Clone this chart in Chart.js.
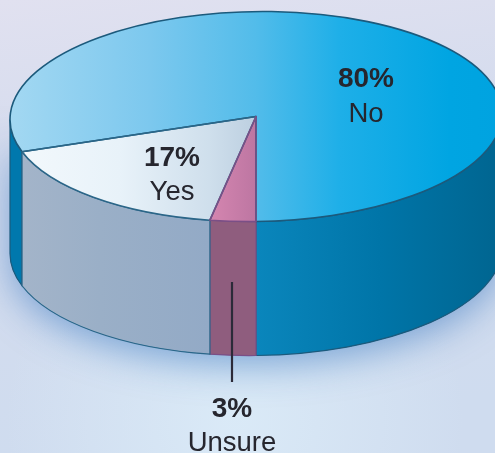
<!DOCTYPE html>
<html>
<head>
<meta charset="utf-8">
<script src="https://cdn.jsdelivr.net/npm/chart.js@4"></script>
<style>
html,body{margin:0;padding:0;background:#d6deee;overflow:hidden}
canvas{display:block}
</style>
</head>
<body>
<canvas id="c" width="495" height="453"></canvas>
<script>
const categories = ['No', 'Unsure', 'Yes'];
const values = [80, 3, 17];
const valueLabels = ['80%', '3%', '17%'];

// Drawing layout (not data)
const VIEW = {cx: 256, cy: 116.5, rx: 246, ry: 105, depth: 134, shear: -0.012};
const TOP_STOPS = [
  [[10, '#a3d8f2'], [150, '#7cc8ee'], [256, '#52bcea'], [340, '#1eafe8'], [450, '#00a5e2'], [502, '#00a3e0']],
  [[209, '#d586b0'], [256, '#bd76a2']],
  [[24, '#f2f8fc'], [120, '#e8f2f9'], [209, '#cfdfec'], [256, '#bccfe0']]
];
const WALL_STOPS = [
  [[10, '#0078ad'], [24, '#0078ad'], [256, '#0a86bc'], [380, '#0075a8'], [502, '#006590']],
  [[209, '#8f5d7e'], [256, '#8f5d7e']],
  [[24, '#a3b4c9'], [100, '#9aafc7'], [209, '#93aac6']]
];
const EDGE = ['#1c5a7c', '#7a4f86', '#2b6688'];
const LABELS = [
  {name: 0, x: 366, y1: 87, y2: 122},
  {name: 2, x: 172, y1: 166, y2: 200},
  {name: 1, x: 232, y1: 417, y2: 451}
];
const LEADER = {x: 232, y0: 282, y1: 382};

function linear(ctx, stops, map) {
  const x0 = stops[0][0], x1 = stops[stops.length - 1][0];
  const g = ctx.createLinearGradient(map(x0), 0, map(x1), 0);
  stops.forEach(s => g.addColorStop((s[0] - x0) / (x1 - x0), s[1]));
  return g;
}
function geo(chart) {
  const a = chart.getDatasetMeta(0).data[0];
  return {x: a.x, y: a.y, r: a.outerRadius};
}
function applyView(ctx, g) {
  ctx.translate(VIEW.cx, VIEW.cy);
  ctx.transform(1, VIEW.shear, 0, 1, 0, 0);
  ctx.scale(VIEW.rx / g.r, VIEW.ry / g.r);
  ctx.translate(-g.x, -g.y);
}
function wallPieces(a0, a1) {
  const out = [], T = Math.PI * 2;
  for (let k = -1; k <= 2; k++) {
    const s = Math.max(a0, k * T), e = Math.min(a1, k * T + Math.PI);
    if (e > s) out.push([s, e]);
  }
  return out;
}
function wallPath(ctx, g, s, e) {
  const d = VIEW.depth * g.r / VIEW.ry;
  ctx.beginPath();
  ctx.arc(g.x, g.y, g.r, s, e);
  ctx.arc(g.x, g.y + d, g.r, e, s, true);
  ctx.closePath();
}

const scene = {
  id: 'scene',
  beforeDraw(chart) {
    const ctx = chart.ctx, W = chart.width, H = chart.height;
    ctx.save();
    const bg = ctx.createLinearGradient(0, 0, 60, H);
    bg.addColorStop(0, '#e1e1f0');
    bg.addColorStop(0.35, '#d5dcee');
    bg.addColorStop(1, '#cfdcef');
    ctx.fillStyle = bg;
    ctx.fillRect(0, 0, W, H);
    const hl = ctx.createRadialGradient(235, 420, 10, 235, 420, 230);
    hl.addColorStop(0, 'rgba(218,234,247,0.95)');
    hl.addColorStop(1, 'rgba(218,234,247,0)');
    ctx.fillStyle = hl;
    ctx.fillRect(0, 0, W, H);
    ctx.restore();
  },
  beforeDatasetsDraw(chart) {
    const ctx = chart.ctx, g = geo(chart);
    // soft shadow under the drum
    ctx.save();
    ctx.shadowColor = 'rgba(35,105,185,0.5)';
    ctx.shadowBlur = 36;
    ctx.shadowOffsetY = 9;
    ctx.save();
    applyView(ctx, g);
    wallPath(ctx, g, 0, Math.PI);
    ctx.restore();
    ctx.fillStyle = '#0a86bc';
    ctx.fill();
    ctx.restore();
    // side walls
    chart.getDatasetMeta(0).data.forEach((arc, i) => {
      wallPieces(arc.startAngle, arc.endAngle).forEach(p => {
        ctx.save();
        applyView(ctx, g);
        wallPath(ctx, g, p[0], p[1]);
        ctx.restore();
        ctx.fillStyle = linear(ctx, WALL_STOPS[i], x => x);
        ctx.fill();
        ctx.strokeStyle = EDGE[i];
        ctx.lineWidth = 1.2;
        ctx.stroke();
      });
    });
    ctx.save();
    applyView(ctx, g);
  },
  afterDatasetsDraw(chart) {
    const ctx = chart.ctx, g = geo(chart);
    ctx.restore();
    const arcs = chart.getDatasetMeta(0).data;
    [0, 2, 1].forEach(i => {
      const arc = arcs[i];
      ctx.save();
      applyView(ctx, g);
      ctx.beginPath();
      ctx.moveTo(g.x, g.y);
      ctx.arc(g.x, g.y, g.r, arc.startAngle, arc.endAngle);
      ctx.closePath();
      ctx.restore();
      ctx.strokeStyle = EDGE[i];
      ctx.lineWidth = 1.6;
      ctx.lineJoin = 'round';
      ctx.stroke();
    });
    // leader line
    ctx.save();
    ctx.strokeStyle = '#2b2a38';
    ctx.lineWidth = 2.2;
    ctx.beginPath();
    ctx.moveTo(LEADER.x, LEADER.y0);
    ctx.lineTo(LEADER.x, LEADER.y1);
    ctx.stroke();
    // labels
    ctx.fillStyle = '#26262e';
    ctx.textAlign = 'center';
    ctx.textBaseline = 'alphabetic';
    LABELS.forEach(l => {
      ctx.font = 'bold 28px "Liberation Sans"';
      ctx.fillText(valueLabels[l.name], l.x, l.y1);
      ctx.font = '27.5px "Liberation Sans"';
      ctx.fillText(categories[l.name], l.x, l.y2);
    });
    ctx.restore();
  }
};

new Chart(document.getElementById('c'), {
  type: 'pie',
  data: {
    labels: categories,
    datasets: [{
      data: values,
      clip: false,
      borderWidth: 0,
      backgroundColor(context) {
        const chart = context.chart;
        const area = chart.chartArea;
        if (!area) return '#00a5e2';
        const R = Math.min(area.right - area.left, area.bottom - area.top) / 2;
        const mid = (area.left + area.right) / 2;
        return linear(chart.ctx, TOP_STOPS[context.dataIndex],
          x => mid + (x - VIEW.cx) * R / VIEW.rx);
      }
    }]
  },
  options: {
    responsive: false,
    animation: false,
    rotation: 252,
    layout: {padding: 0},
    plugins: {legend: {display: false}, tooltip: {enabled: false}}
  },
  plugins: [scene]
});
</script>
</body>
</html>
